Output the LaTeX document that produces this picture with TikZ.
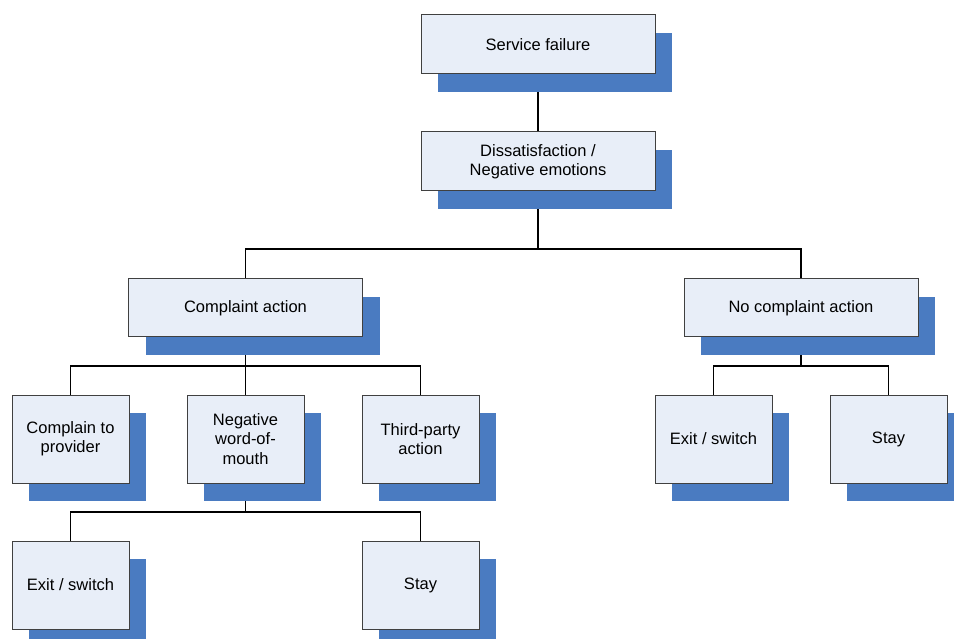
\documentclass[tikz,border=0pt]{standalone}
\usepackage{fontspec}
\setmainfont{Liberation Sans}
\usetikzlibrary{shadows,backgrounds}
\definecolor{boxfill}{RGB}{232,238,248}
\definecolor{shadowblue}{RGB}{74,123,193}
\definecolor{bordergray}{RGB}{64,64,64}
\begin{document}
\begin{tikzpicture}[x=1pt,y=1pt,
  box/.style={draw=bordergray, fill=boxfill, line width=1pt, inner sep=0pt,
    align=center, text=black, font=\fontsize{16.5}{19.4}\selectfont,
    general shadow={fill=shadowblue, shadow xshift=17pt, shadow yshift=-18pt}},
  widebox/.style={box, minimum width=234pt, minimum height=59pt},
  smallbox/.style={box, minimum width=117pt, minimum height=88pt},
  conn/.style={line width=1.2pt, draw=black}]
\useasboundingbox (0,0) rectangle (954,-639);
\node[widebox] (sf)  at (538,-44.5)  {Service failure};
\node[widebox] (dis) at (538,-161.5) {Dissatisfaction /\\Negative emotions};
\node[widebox, minimum height=58pt] (ca)  at (245.5,-308) {Complaint action};
\node[widebox, minimum height=58pt] (nca) at (801,-308)   {No complaint action};
\node[smallbox] (cp)   at (70.5,-439)  {Complain to\\provider};
\node[smallbox] (nwom) at (245.5,-439) {Negative\\word-of-\\mouth};
\node[smallbox] (tpa)  at (420.5,-439) {Third-party\\action};
\node[smallbox] (es1)  at (70.5,-585)  {Exit / switch};
\node[smallbox] (st1)  at (420.5,-585) {Stay};
\node[smallbox] (es2)  at (713.5,-439) {Exit / switch};
\node[smallbox] (st2)  at (888.5,-439) {Stay};
\coordinate (j1) at (538,-249);
\coordinate (j2) at (245.5,-366);
\coordinate (j3) at (245.5,-512);
\coordinate (j4) at (801,-366);
\begin{scope}[on background layer]
\draw[conn] (sf.south) -- (dis.north);
\draw[conn] (dis.south) -- (j1);
\draw[conn] (ca.north) |- (j1) -| (nca.north);
\draw[conn] (ca.south) -- (j2);
\draw[conn] (cp.north) |- (j2) -| (tpa.north);
\draw[conn] (nwom.north) -- (j2);
\draw[conn] (nwom.south) -- (j3);
\draw[conn] (es1.north) |- (j3) -| (st1.north);
\draw[conn] (nca.south) -- (j4);
\draw[conn] (es2.north) |- (j4) -| (st2.north);
\end{scope}
\end{tikzpicture}
\end{document}
